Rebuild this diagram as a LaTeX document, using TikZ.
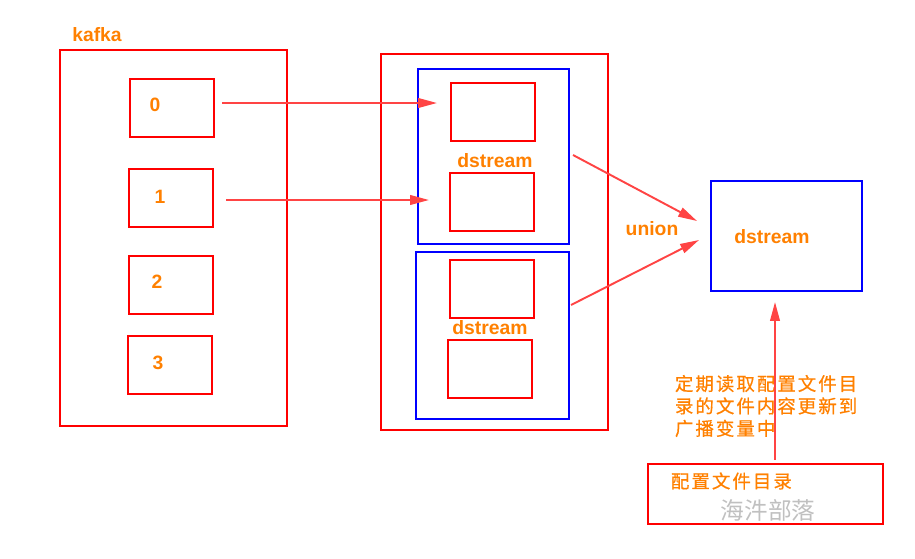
\documentclass[tikz,border=0pt]{standalone}
\usepackage{fontspec}
\setmainfont{Liberation Sans}
\newfontfamily\cjk{Noto Sans CJK SC}
\newfontfamily\cjkwide[LetterSpace=11, FakeBold=0.6]{Noto Sans CJK SC}
\usetikzlibrary{arrows.meta}
\definecolor{kRed}{HTML}{FF0000}
\definecolor{kBlue}{HTML}{0000FF}
\definecolor{kOrange}{HTML}{FF8000}
\definecolor{kArrow}{HTML}{FF4444}
\definecolor{kGray}{HTML}{C0C0C0}

\begin{document}
\begin{tikzpicture}[x=0.02cm, y=-0.02cm, line width=1.1pt,
  redbox/.style={draw=kRed, inner sep=0pt, outer sep=0pt},
  bluebox/.style={draw=kBlue, inner sep=0pt, outer sep=0pt},
  part/.style={redbox, minimum width=1.68cm, minimum height=1.16cm},
  lbl/.style={text=kOrange, font=\fontsize{11}{13}\selectfont\bfseries, inner sep=0pt},
  note/.style={text=kOrange, font=\fontsize{10.5}{12.75}\selectfont\cjkwide, inner sep=0pt, align=left},
  arr/.style={kArrow, -{Triangle[length=10.8pt, width=5.5pt]}}]
\useasboundingbox (0,0) rectangle (915,558);
% kafka with its partitions
\node[redbox, minimum width=4.54cm, minimum height=7.52cm] (kafka) at (173.5,238) {};
\node[lbl] (kafkalbl) at (97,35) {kafka};
\node[part] (p0) at (172,108) {};
\node[part] (p1) at (171,198) {};
\node[part] (p2) at (171,285) {};
\node[part] (p3) at (170,365) {};
\node[lbl] (p0lbl) at (155,105) {0};
\node[lbl] (p1lbl) at (160,197) {1};
\node[lbl] (p2lbl) at (157,282) {2};
\node[lbl] (p3lbl) at (158,363) {3};
% streaming side
\node[redbox, minimum width=4.54cm, minimum height=7.52cm] (app) at (494.5,242) {};
\node[bluebox, minimum width=3.02cm, minimum height=3.5cm] (ds1) at (493.5,156.5) {};
\node[part] (s1a) at (493,112) {};
\node[part] (s1b) at (492,202) {};
\node[lbl] (ds1lbl) at (495,161) {dstream};
\node[bluebox, minimum width=3.06cm, minimum height=3.34cm] (ds2) at (492.5,335.5) {};
\node[part] (s2a) at (492,289) {};
\node[part] (s2b) at (490,369) {};
\node[lbl] (ds2lbl) at (490,328) {dstream};
% union result
\node[bluebox, minimum width=3.02cm, minimum height=2.2cm] (dsu) at (786.5,236) {};
\node[lbl] (dsulbl) at (772,237) {dstream};
\node[lbl] (unionlbl) at (652,229) {union};
% config directory
\node[redbox, minimum width=4.7cm, minimum height=1.2cm] (cfg) at (765.5,494) {};
\node[note, anchor=west] (cfglbl) at (670,481) {配置文件目录};
\node[text=kGray, font=\fontsize{13.5}{15}\selectfont\cjk, inner sep=0pt] (mark) at (768,510) {海汼部落};
\node[note, anchor=west] (notelbl) at (674,406) {定期读取配置文件目\\录的文件内容更新到\\广播变量中};
% connectors
\coordinate (a0) at (222,103);
\coordinate (b0) at (437,103);
\coordinate (a1) at (226,200);
\coordinate (b1) at (429,200);
\coordinate (u1) at (573,155);
\coordinate (v1) at (697,221);
\coordinate (u2) at (571,305);
\coordinate (v2) at (699,240);
\coordinate (c0) at (775,460);
\coordinate (c1) at (775,302);
\draw[arr] (a0) -- (b0);
\draw[arr] (a1) -- (b1);
\draw[arr] (u1) -- (v1);
\draw[arr] (u2) -- (v2);
\draw[arr] (c0) -- (c1);
\end{tikzpicture}
\end{document}
